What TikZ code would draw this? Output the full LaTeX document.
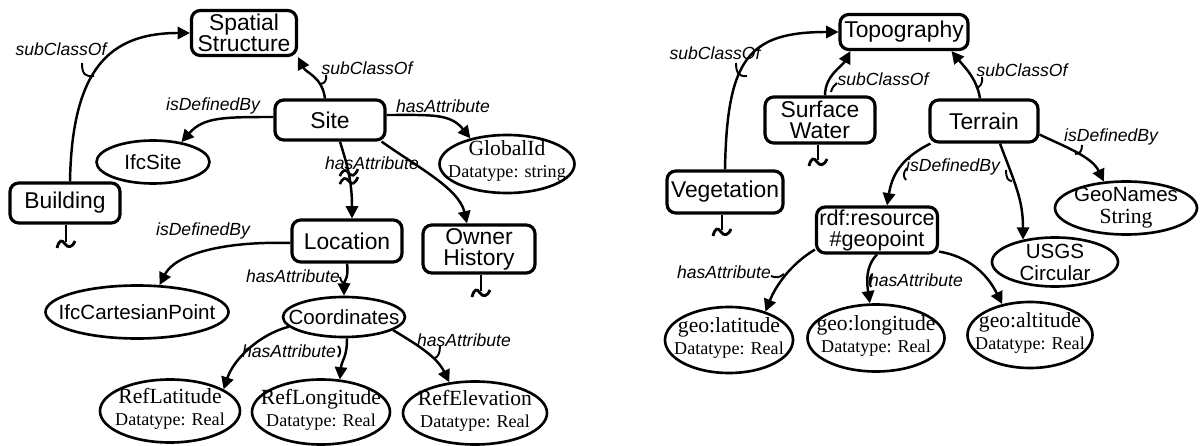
\documentclass[tikz,border=0pt]{standalone}
\usepackage{fontspec}
\setmainfont{Liberation Sans}
\newfontfamily\tnr{Liberation Serif}
\usetikzlibrary{shapes.geometric,arrows.meta}
\newcommand\dtfont{\fontsize{10.3}{12.5}\selectfont}
\tikzset{
  wh/.style 2 args={minimum width=#1*0.02cm, minimum height=#2*0.02cm},
  cls/.style={draw, line width=1.8pt, rounded corners=5pt, align=center,
    inner xsep=1pt, inner ysep=1pt, font=\fontsize{13}{12}\selectfont},
  ell/.style={draw, ellipse, line width=1.5pt, inner sep=0pt},
  etxt/.style={inner sep=0pt, align=center, font=\fontsize{11.7}{12.5}\selectfont},
  ser/.style={inner sep=0pt, align=center, font=\tnr\fontsize{12.3}{12.5}\selectfont},
  elbl/.style={font=\fontsize{10}{12}\selectfont\itshape, inner sep=0pt},
  link/.style={line width=1.4pt, -{Triangle[length=7pt,width=7pt]}},
  stub/.style={line width=1.4pt},
  hk/.style={line width=1.1pt},
  squig/.pic={\draw[line width=1.6pt] (-9,6) .. controls (-7,-2) and (-4,-3) .. (-1,2)
      .. controls (2,6) and (6,6) .. (9,-1);},
  brkmark/.pic={\draw[line width=1.5pt] (-9,4) .. controls (-6,-3) and (-3,-3) .. (0,1)
      .. controls (3,5) and (6,4) .. (9,-3);}
}
\begin{document}
\begin{tikzpicture}[x=0.02cm, y=-0.02cm]
\fill[white] (0,0) rectangle (1201,446);
\useasboundingbox (0,0) rectangle (1201,446);

% ---------- IFC side: classes ----------
\node[cls, wh={105}{45}] (spatial) at (244,33) {Spatial\\Structure};
\node[cls, wh={110}{40}] (building) at (65,203) {Building};
\node[cls, wh={110}{40}] (site) at (330,120) {Site};
\node[cls, wh={110}{42}] (location) at (347,241) {Location};
\node[cls, wh={112}{48}] (owner) at (479,249) {Owner\\History};

% ---------- IFC side: attributes ----------
\node[ell, wh={113}{43}, label={[etxt]center:IfcSite}] (ifcsite) at (153,162) {};
\node[ell, wh={135}{58}, label={[ser,yshift=2pt]center:{GlobalId\\\dtfont Datatype: string}}] (globalid) at (507,164) {};
\node[ell, wh={183}{53}, label={[etxt]center:IfcCartesianPoint}] (ifccp) at (137,312) {};
\node[ell, wh={122}{40}, label={[etxt]center:Coordinates}] (coords) at (344,317) {};
\node[ell, wh={140}{63}, label={[ser,yshift=1pt]center:{RefLatitude\\\dtfont Datatype: Real}}] (reflat) at (170,411) {};
\node[ell, wh={138}{65}, label={[ser,yshift=1pt]center:{RefLongitude\\\dtfont Datatype: Real}}] (reflon) at (321,412) {};
\node[ell, wh={144}{63}, label={[ser,yshift=1pt]center:{RefElevation\\\dtfont Datatype: Real}}] (refele) at (475,413) {};

% ---------- GeoNames side: classes ----------
\node[cls, wh={128}{35}] (topo) at (904,32) {Topography};
\node[cls, wh={110}{46}] (water) at (820,120) {Surface\\Water};
\node[cls, wh={108}{42}] (terrain) at (984,121) {Terrain};
\node[cls, wh={116}{42}] (veg) at (725,192) {Vegetation};
\node[cls, wh={121}{46}, font=\fontsize{12.3}{12}\selectfont] (geopt) at (877,230) {rdf:resource\\\#geopoint};

% ---------- GeoNames side: attributes ----------
\node[ell, wh={142}{53}, label={[etxt]center:{GeoNames\\\tnr\fontsize{12.3}{12.5}\selectfont String}}] (geonames) at (1126,208) {};
\node[ell, wh={126}{49}, label={[etxt]center:{USGS\\Circular}}] (usgs) at (1055,262) {};
\node[ell, wh={128}{66}, label={[ser,yshift=1pt]center:{geo:latitude\\\dtfont Datatype: Real}}] (geolat) at (729,340) {};
\node[ell, wh={137}{67}, label={[ser,yshift=1pt]center:{geo:longitude\\\dtfont Datatype: Real}}] (geolon) at (876,338) {};
\node[ell, wh={125}{66}, label={[ser,yshift=1pt]center:{geo:altitude\\\dtfont Datatype: Real}}] (geoalt) at (1030,335) {};

% ---------- IFC side: relations ----------
\draw[link] ([xshift=0.1cm]building.north) .. controls +(2,-113) and +(-80,0) .. (spatial.west);
\draw[link] ([xshift=-0.1cm]site.north) .. controls +(-3,-22) and +(8,16) .. (spatial.south east);
\draw[link] ([yshift=0.06cm]site.west) .. controls +(-50,0) and +(22,-25) .. (ifcsite.35);
\draw[link] ([yshift=0.1cm]site.east) .. controls +(45,0) and +(-20,-25) .. (globalid.145);
\draw[link] ([xshift=0.2cm]site.south) .. controls +(6,20) and +(0,-40) .. coordinate[pos=0.55] (brk) ([xshift=0.1cm]location.north);
\draw[link] ([xshift=-0.1cm]site.south east) .. controls +(35,25) and +(-8,-35) .. ([xshift=-0.24cm]owner.north);
\draw[link] ([yshift=-0.04cm]location.west) .. controls +(-70,-2) and +(15,-30) .. (ifccp.50);
\draw[link] (location.south) .. controls +(2,15) and +(0,-15) .. (coords.north);
\draw[link] (coords.190) .. controls +(-30,8) and +(10,-30) .. (reflat.22);
\draw[link] ([xshift=0.06cm]coords.south) .. controls +(0,20) and +(2,-20) .. (reflon.60);
\draw[link] (coords.-15) .. controls +(25,15) and +(-12,-25) .. (refele.130);

% break mark on Site -> Location
\pic at ([yshift=0.08cm]brk) {brkmark};
\pic at ([yshift=-0.08cm]brk) {brkmark};

% open ends
\coordinate (buildingEnd) at (66,242);
\draw[stub] (buildingEnd |- building.south) -- (buildingEnd);
\pic at (buildingEnd) {squig};
\coordinate (ownerEnd) at (481,291);
\draw[stub] (ownerEnd |- owner.south) -- (ownerEnd);
\pic at (ownerEnd) {squig};

% ---------- GeoNames side: relations ----------
\draw[link] (veg.north) .. controls +(2,-111) and +(-90,0) .. (topo.west);
\draw[link] ([xshift=0.1cm]water.north) .. controls +(0,-20) and +(-8,15) .. ([xshift=0.24cm]topo.south west);
\draw[link] ([xshift=-0.08cm]terrain.north) .. controls +(-3,-20) and +(12,15) .. ([xshift=-0.36cm]topo.south east);
\draw[link] ([xshift=0.04cm]terrain.south west) .. controls +(-30,15) and +(5,-30) .. ([xshift=0.2cm]geopt.north);
\draw[link] ([xshift=0.32cm]terrain.south) .. controls +(15,40) and +(0,-40) .. (usgs.145);
\draw[link] ([yshift=0.18cm]terrain.south east) .. controls +(25,12) and +(-12,-25) .. (geonames.130);
\draw[link] ([yshift=0.1cm]geopt.south west) .. controls +(-25,15) and +(10,-25) .. (geolat.38);
\draw[link] (geopt.south) .. controls +(-12,12) and +(-3,-20) .. (geolon.100);
\draw[link] ([yshift=0.06cm]geopt.south east) .. controls +(30,5) and +(-15,-30) .. (geoalt.132);

\coordinate (waterEnd) at (818,160);
\draw[stub] (waterEnd |- water.south) -- (waterEnd);
\pic at (waterEnd) {squig};
\coordinate (vegEnd) at (722,230);
\draw[stub] (vegEnd |- veg.south) -- (vegEnd);
\pic at (vegEnd) {squig};

% ---------- relation labels ----------
\node[elbl] (l1) at (61,49) {subClassOf};
\node[elbl] (l2) at (367,68) {subClassOf};
\node[elbl] (l3) at (213,106) {isDefinedBy};
\node[elbl] (l4) at (443,106) {hasAttribute};
\node[elbl] (l5) at (372,163) {hasAttribute};
\node[elbl] (l6) at (203,231) {isDefinedBy};
\node[elbl] (l7) at (293,276) {hasAttribute};
\node[elbl] (l8) at (289,351) {hasAttribute};
\node[elbl] (l9) at (464,340) {hasAttribute};
\node[elbl] (r1) at (715,53) {subClassOf};
\node[elbl] (r2) at (883,79) {subClassOf};
\node[elbl] (r3) at (1022,70) {subClassOf};
\node[elbl] (r4) at (953,167) {isDefinedBy};
\node[elbl] (r5) at (1111,137) {isDefinedBy};
\node[elbl] (r6) at (724,272) {hasAttribute};
\node[elbl] (r7) at (916,280) {hasAttribute};

% label pointers
\draw[hk] (l1.center) ++(21,14) .. controls +(0,11) and +(-9,1) .. ++(12,13);
\draw[hk] (l2.center) ++(-41,7) .. controls +(1,5) and +(4,-1) .. ++(-5,9);
\draw[hk] (l7.center) ++(47,1) .. controls +(1,5) and +(-5,0) .. ++(8,7);
\draw[hk] (l8.center) ++(49,-5) .. controls +(3,3) and +(3,-4) .. ++(0,11);
\draw[hk] (l9.center) ++(-24,6) .. controls +(0,7) and +(4,0) .. ++(-6,12);
\draw[hk] (r1.center) ++(21,10) .. controls +(0,10) and +(-8,1) .. ++(11,13);
\draw[hk] (r2.center) ++(-46,4) .. controls +(-3,2) and +(1,-4) .. ++(-6,9);
\draw[hk] (r3.center) ++(-40,7) .. controls +(1,7) and +(4,-1) .. ++(-6,11);
\draw[hk] (r4.center) ++(-46,1) .. controls +(-4,4) and +(-3,-3) .. ++(-1,12);
\draw[hk] (r4.center) ++(53,3) .. controls +(0,8) and +(-4,0) .. ++(6,11);
\draw[hk] (r5.center) ++(-29,8) .. controls +(0,6) and +(5,0) .. ++(-7,9);
\draw[hk] (r6.center) ++(47,4) .. controls +(5,2) and +(-5,4) .. ++(13,-2);
\draw[hk] (r7.center) ++(-44,-6) .. controls +(-3,4) and +(-2,-4) .. ++(-1,13);
\end{tikzpicture}
\end{document}
